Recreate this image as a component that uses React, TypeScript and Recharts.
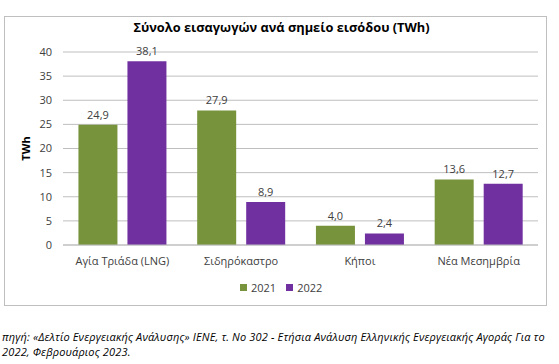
import React from 'react';
import { BarChart, Bar, XAxis, YAxis, CartesianGrid, LabelList, Label } from 'recharts';

const categories = ['Αγία Τριάδα (LNG)', 'Σιδηρόκαστρο', 'Κήποι', 'Νέα Μεσημβρία'];
const values2021 = [24.9, 27.9, 4.0, 13.6];
const values2022 = [38.1, 8.9, 2.4, 12.7];
const yTicks = [0, 5, 10, 15, 20, 25, 30, 35, 40];
const seriesNames = ['2021', '2022'];

const data = categories.map((c, i) => ({ name: c, y2021: values2021[i], y2022: values2022[i] }));

const GREEN = '#77933C';
const PURPLE = '#7030A0';
const FONT = 'Open Sans, "Noto Sans", sans-serif';

const fmt = (v: any) => Number(v).toFixed(1).replace('.', ',');

export default function App() {
  return (
    <div style={{ position: 'absolute', left: 0, top: 0, width: 559, height: 364, background: '#fff', fontFamily: FONT }}>
      <div style={{ position: 'absolute', left: 4, top: 16, width: 543, height: 290, border: '1px solid #bfbfbf', boxSizing: 'border-box' }} />
      <div style={{ position: 'absolute', left: 0, width: 559, top: 18, textAlign: 'center', fontSize: 12.8, fontWeight: 700, color: '#000', paddingLeft: 2 }}>
        Σύνολο εισαγωγών ανά σημείο εισόδου (TWh)
      </div>
      <div style={{ position: 'absolute', left: 4, top: 17 }}>
        <BarChart
          width={544}
          height={290}
          data={data}
          margin={{ top: 35, right: 10, left: 0, bottom: 0 }}
          barGap={10}
          barCategoryGap="13%"
        >
          <CartesianGrid vertical={false} stroke="#bfbfbf" />
          <XAxis
            dataKey="name"
            height={62}
            tickLine={false}
            axisLine={{ stroke: '#bfbfbf' }}
            tick={{ fontSize: 11, fill: '#404040', fontFamily: FONT }}
            tickMargin={6}
            interval={0}
          />
          <YAxis
            width={59}
            domain={[0, 40]}
            ticks={yTicks}
            tickLine={false}
            axisLine={false}
            tickMargin={5}
            tick={{ fontSize: 11, fill: '#404040', fontFamily: FONT }}
          >
            <Label value="TWh" angle={-90} position="insideLeft" offset={22} style={{ fontSize: 11, fontWeight: 700, fill: '#000', fontFamily: FONT, textAnchor: 'middle' }} />
          </YAxis>
          <Bar dataKey="y2021" name={seriesNames[0]} fill={GREEN} isAnimationActive={false}>
            <LabelList dataKey="y2021" position="top" offset={6} formatter={fmt} style={{ fontSize: 11, fill: '#404040', fontFamily: FONT }} />
          </Bar>
          <Bar dataKey="y2022" name={seriesNames[1]} fill={PURPLE} isAnimationActive={false}>
            <LabelList dataKey="y2022" position="top" offset={6} formatter={fmt} style={{ fontSize: 11, fill: '#404040', fontFamily: FONT }} />
          </Bar>
        </BarChart>
      </div>
      <div style={{ position: 'absolute', left: 240, top: 280, display: 'flex', alignItems: 'center', fontSize: 11, color: '#404040' }}>
        <span style={{ display: 'inline-block', width: 7, height: 7, background: GREEN, marginRight: 4 }} />
        <span style={{ marginRight: 10 }}>{seriesNames[0]}</span>
        <span style={{ display: 'inline-block', width: 7, height: 7, background: PURPLE, marginRight: 4 }} />
        <span>{seriesNames[1]}</span>
      </div>
      <div style={{ position: 'absolute', left: 2, top: 329, width: 556, fontSize: 11, fontStyle: 'italic', lineHeight: '15px', color: '#000', letterSpacing: 0.15 }}>
        πηγή: «Δελτίο Ενεργειακής Ανάλυσης» ΙΕΝΕ, τ. Νο 302  - Ετήσια Ανάλυση Ελληνικής Ενεργειακής Αγοράς Για το 2022, Φεβρουάριος 2023.
      </div>
    </div>
  );
}
